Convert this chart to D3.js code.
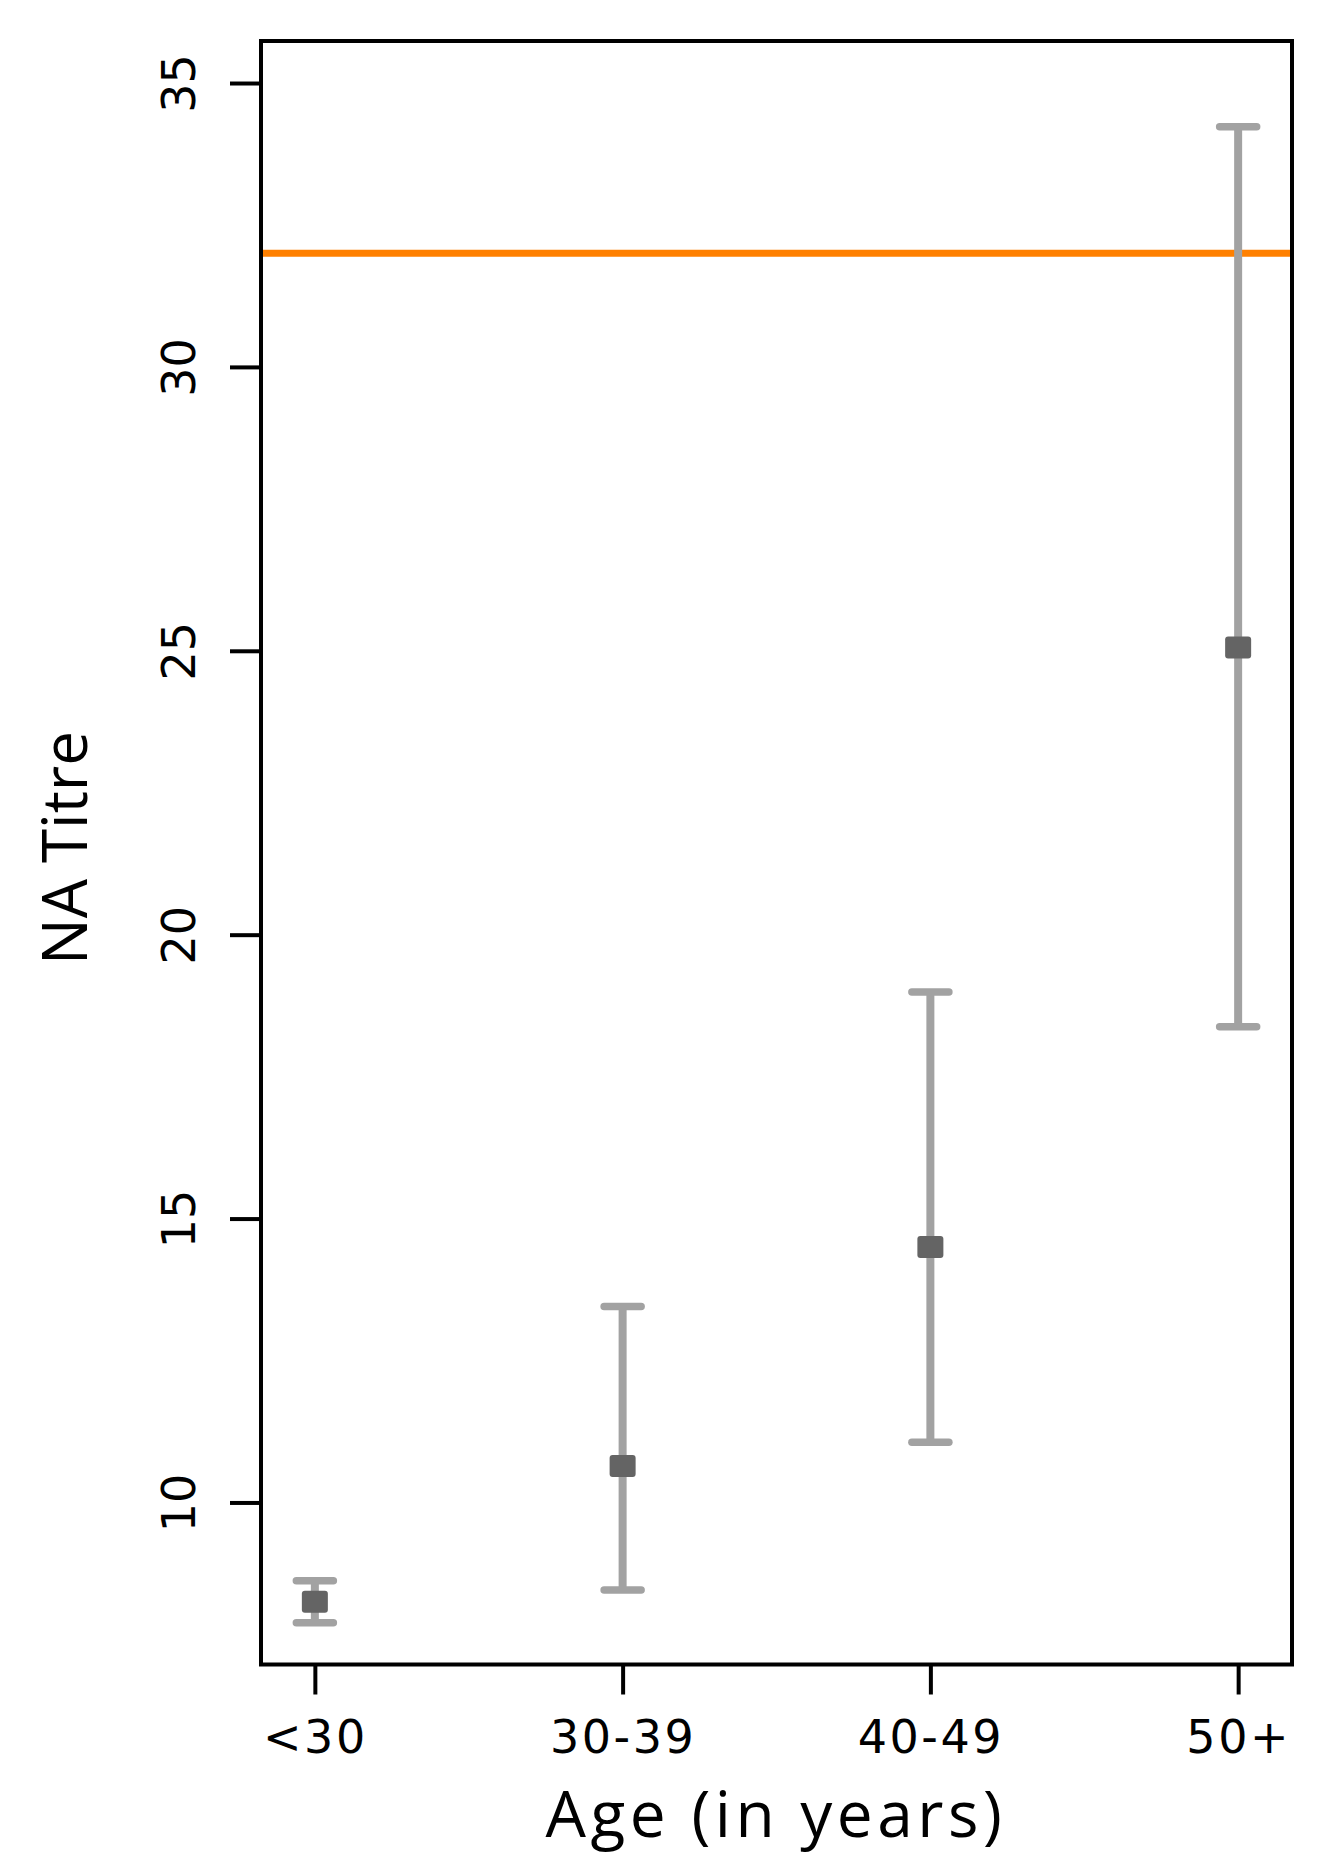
<!DOCTYPE html>
<html>
<head>
<meta charset="utf-8">
<script src="https://cdn.jsdelivr.net/npm/d3@7"></script>
<style>
  body { margin: 0; background: #fff; }
  svg { display: block; }
</style>
</head>
<body>
<script>
// values
var categories = ["<30", "30-39", "40-49", "50+"];
var means = [8.25, 10.64, 14.50, 25.06];
var lower = [7.88, 8.46, 11.06, 18.38];
var upper = [8.62, 13.45, 18.99, 34.23];
var refLine = 32;
var yTicks = [10, 15, 20, 25, 30, 35];

var width = 1332, height = 1876;
var margin = {top: 41, right: 40, bottom: 212, left: 261};
var w = 1292 - margin.left;
var h = 1664.5 - margin.top;

var svg = d3.select("body").append("svg")
  .attr("width", width)
  .attr("height", height);

var g = svg.append("g")
  .attr("transform", "translate(" + margin.left + "," + margin.top + ")");

var x = d3.scaleLinear().domain([-0.175, 3.175]).range([0, w]);
var y = d3.scaleLinear().domain([7.146, 35.74]).range([h, 0]);

var data = categories.map(function(c, i) {
  return {cat: c, i: i, mean: means[i], lo: lower[i], hi: upper[i]};
});

// reference line
g.append("line")
  .attr("x1", 0).attr("x2", w)
  .attr("y1", y(refLine)).attr("y2", y(refLine))
  .attr("stroke", "#ff8000")
  .attr("stroke-width", 7);

// error bars
var bars = g.selectAll(".err").data(data).enter().append("g").attr("class", "err")
  .attr("stroke", "#a2a2a2")
  .attr("stroke-width", 8);

bars.append("line")
  .attr("x1", d => x(d.i)).attr("x2", d => x(d.i))
  .attr("y1", d => y(d.lo)).attr("y2", d => y(d.hi));

bars.append("line")
  .attr("stroke-width", 7.5)
  .attr("stroke-linecap", "round")
  .attr("x1", d => x(d.i) - 18.5).attr("x2", d => x(d.i) + 18.5)
  .attr("y1", d => y(d.hi)).attr("y2", d => y(d.hi));

bars.append("line")
  .attr("stroke-width", 7.5)
  .attr("stroke-linecap", "round")
  .attr("x1", d => x(d.i) - 18.5).attr("x2", d => x(d.i) + 18.5)
  .attr("y1", d => y(d.lo)).attr("y2", d => y(d.lo));

// mean markers
g.selectAll(".pt").data(data).enter().append("rect")
  .attr("class", "pt")
  .attr("x", d => x(d.i) - 13)
  .attr("y", d => y(d.mean) - 11)
  .attr("width", 26)
  .attr("height", 22)
  .attr("rx", 3)
  .attr("fill", "#646464");

// frame
g.append("rect")
  .attr("x", 0).attr("y", 0)
  .attr("width", w).attr("height", h)
  .attr("fill", "none")
  .attr("stroke", "#000")
  .attr("stroke-width", 4);

// y axis
var yAxis = g.append("g")
  .call(d3.axisLeft(y).tickValues(yTicks).tickSize(31).tickFormat(d3.format("d")));
yAxis.select(".domain").remove();
yAxis.selectAll("line").attr("stroke", "#000").attr("stroke-width", 4);
yAxis.selectAll("text")
  .attr("x", 0).attr("dy", 0)
  .attr("transform", "translate(-66,0) rotate(-90)")
  .attr("text-anchor", "middle")
  .attr("fill", "#000")
  .style("font-family", "DejaVu Sans")
  .style("font-size", "46px");

// x axis
var xAxis = g.append("g")
  .attr("transform", "translate(0," + h + ")")
  .call(d3.axisBottom(x).tickValues([0, 1, 2, 3]).tickSize(30)
    .tickFormat(function(d) { return categories[d]; }));
xAxis.select(".domain").remove();
xAxis.selectAll("line").attr("stroke", "#000").attr("stroke-width", 4);
xAxis.selectAll("text")
  .attr("y", 88).attr("dy", 0)
  .attr("fill", "#000")
  .style("font-family", "DejaVu Sans")
  .style("font-size", "46px")
  .style("letter-spacing", "2.5px");

// axis titles
svg.append("text")
  .attr("x", 776)
  .attr("y", 1836.5)
  .attr("text-anchor", "middle")
  .style("font-family", "Open Sans")
  .style("font-size", "64px")
  .style("letter-spacing", "4.5px")
  .text("Age (in years)");

svg.append("text")
  .attr("transform", "translate(87,848) rotate(-90)")
  .attr("text-anchor", "middle")
  .style("font-family", "Open Sans")
  .style("font-size", "62px")
  .text("NA Titre");
</script>
</body>
</html>
